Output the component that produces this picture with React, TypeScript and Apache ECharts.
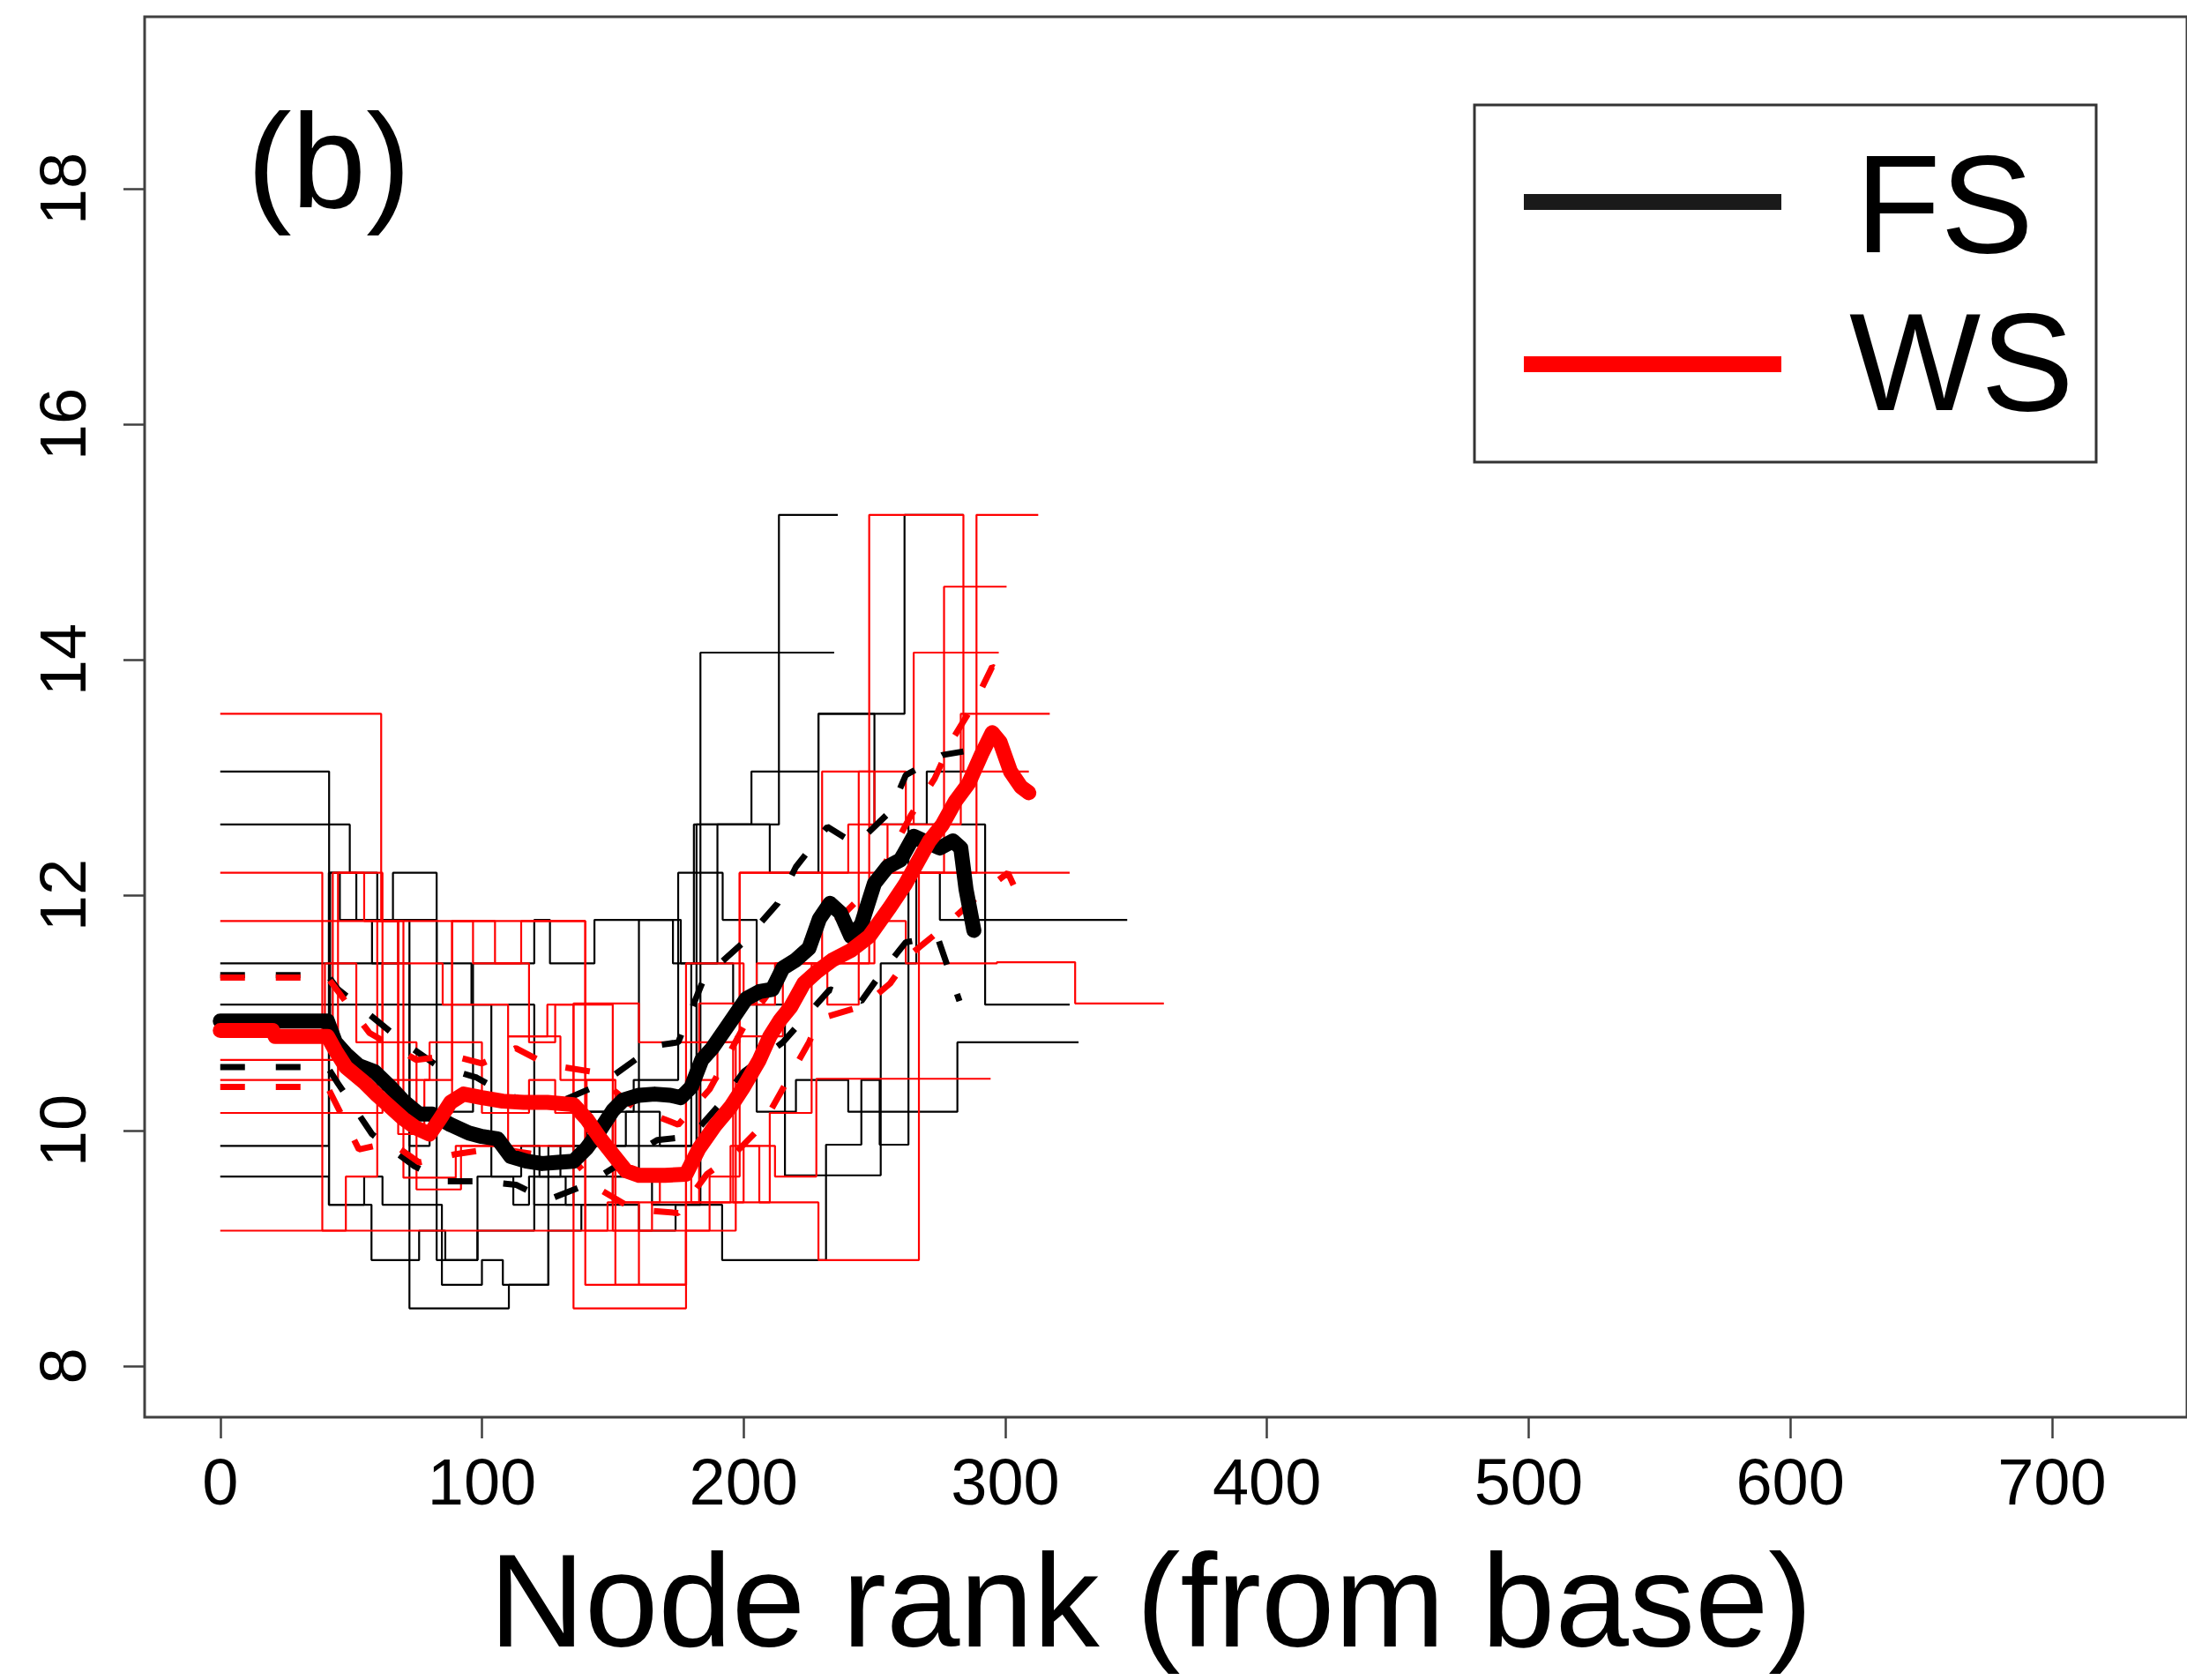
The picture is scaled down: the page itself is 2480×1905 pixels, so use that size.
import React, { useEffect, useRef } from "react";
import * as echarts from "echarts";

// ---------- axis ticks ----------
const X_TICKS = [0, 100, 200, 300, 400, 500, 600, 700];
const Y_TICKS = [8, 10, 12, 14, 16, 18];
const X_TITLE = "Node rank (from base)";
const PANEL_LABEL = "(b)";
const LEGEND_NAMES = ["FS", "WS"];

// ---------- thin step profiles (FS = black) ----------
const fsRun1 = [[0, 13.05], [41.6, 9.37], [55, 9.61], [62, 9.37], [84.7, 8.69], [100, 8.9], [108, 8.69], [125.4, 9.15], [138, 9.37], [150, 9.61], [165, 9.37], [183.5, 14.06], [234.6, 14.06]];
const fsRun2 = [[0, 12.6], [49.5, 12.19], [60, 11.79], [66, 12.19], [82.7, 8.9], [98.3, 9.61], [115, 9.87], [122, 9.61], [130, 9.87], [155, 10.16], [168, 9.87], [182, 12.6], [213.5, 15.23], [236, 15.23]];
const fsRun3 = [[0, 11.42], [68, 11.79], [72.3, 9.87], [80, 10.16], [96.6, 11.42], [120, 11.79], [126, 11.42], [143, 11.79], [173, 11.42], [181, 12.6], [203, 13.05], [228.6, 13.54], [261.5, 15.23], [284, 15.23]];
const fsRun4 = [[0, 11.07], [103.6, 9.61], [112, 9.37], [118, 9.61], [135, 10.16], [158, 10.43], [175, 12.19], [192, 11.79], [205, 10.16], [220, 10.43], [240, 10.16], [263, 12.6], [292.3, 11.07], [324.6, 11.07]];
const fsRun5 = [[0, 9.87], [41.5, 12.19], [45.7, 11.79], [58, 11.42], [72.3, 8.49], [110.3, 8.69], [125.4, 9.87], [140, 10.16], [150, 9.87], [180, 11.42], [196, 11.07], [215.8, 9.62], [252.4, 11.42], [266, 12.19], [275, 11.79], [346.6, 11.79]];
const fsRun6 = [[0, 9.61], [41.5, 9.37], [57.8, 8.9], [76, 9.15], [86, 8.9], [98.3, 9.15], [120, 9.61], [132, 9.37], [160, 9.15], [174, 9.37], [191.8, 8.9], [231.5, 9.88], [245, 10.43], [252, 9.88], [263, 10.16], [281.7, 10.75], [328, 10.75]];
const fsRun7 = [[0, 10.9], [42, 12.19], [52, 11.79], [82.7, 11.42], [96, 11.07], [120, 9.37], [135, 9.61], [160, 11.79], [176, 11.42], [190, 12.6], [210, 12.19], [228.6, 13.54], [250, 12.6], [270, 13.05], [290, 13.05]];

// ---------- thin step profiles (WS = red) ----------
const wsRun1 = [[0, 13.54], [61.5, 11.78], [68, 10.15], [88.6, 11.78], [105, 11.42], [115, 11.78], [139.5, 9.15], [148, 9.39], [160, 8.69], [178, 11.42], [200, 11.07], [212, 11.42], [248, 15.23], [284, 13.05], [309, 13.05]];
const wsRun2 = [[0, 12.19], [39, 9.15], [48, 9.61], [60, 11.78], [96.6, 11.42], [118, 10.75], [128, 11.07], [135, 8.49], [178, 9.15], [187, 9.61], [198.5, 12.19], [240, 12.6], [255, 12.19], [289, 15.23], [312.6, 15.23]];
const wsRun3 = [[0, 11.78], [68, 9.97], [78, 10.43], [88.6, 11.78], [139.5, 8.69], [178, 9.39], [195, 9.87], [206, 9.39], [228.6, 8.9], [267, 12.19], [276.6, 14.62], [300.5, 14.62]];
const wsRun4 = [[0, 10.43], [45, 12.19], [62, 10.43], [80, 10.75], [100, 10.15], [118, 10.43], [128, 10.15], [140, 10.43], [151, 9.39], [168, 9.61], [180, 9.39], [200, 9.87], [212, 9.61], [227.8, 10.44], [294.4, 10.44]];
const wsRun5 = [[0, 10.15], [62, 11.42], [85, 11.07], [110, 10.8], [125, 11.07], [150, 9.15], [165, 9.39], [183, 11.08], [205, 11.42], [230, 13.05], [250, 12.6], [265, 14.06], [297.5, 14.06]];
const wsRun6 = [[0, 9.15], [197, 10.8], [215, 11.42], [232, 11.07], [244, 13.05], [262, 12.6], [283, 13.54], [317, 13.54]];
const wsRun7 = [[0, 10.8], [40, 11.42], [52, 10.75], [75, 9.5], [92, 9.87], [135, 11.08], [160, 10.75], [196, 9.39], [210, 10.15], [226, 11.42], [250, 11.78], [262, 11.42], [296.8, 11.43], [326.7, 11.08], [360.6, 11.08]];
const wsRun8 = [[0, 10.6], [43, 12.19], [55, 11.78], [70, 9.6], [90, 9.87], [110, 10.8], [130, 10.43], [151, 8.69], [178, 10.43], [190, 10.75], [198.5, 12.19], [324.6, 12.19]];

// ---------- mean profiles ----------
const fsMeanX = [0, 41, 44, 48, 53, 59, 65, 70, 76, 81, 88, 95, 100, 106, 111, 117, 123, 129, 135, 140, 145, 150, 154, 160, 166, 172, 176, 180, 184, 188, 193, 197, 201, 206, 211, 215, 220, 225, 229, 233, 237, 241, 245, 250, 255, 260, 265, 270, 275, 280, 283, 285, 288];
const fsMeanY = [10.93, 10.93, 10.75, 10.65, 10.55, 10.5, 10.37, 10.25, 10.14, 10.14, 10.05, 9.98, 9.95, 9.93, 9.78, 9.74, 9.72, 9.73, 9.74, 9.85, 10.0, 10.17, 10.26, 10.3, 10.31, 10.3, 10.28, 10.37, 10.6, 10.7, 10.86, 10.99, 11.12, 11.18, 11.2, 11.38, 11.45, 11.55, 11.8, 11.93, 11.85, 11.65, 11.75, 12.1, 12.24, 12.3, 12.5, 12.45, 12.4, 12.46, 12.4, 12.05, 11.7];
const wsMeanX = [0, 20, 21, 41, 44, 48, 55, 60, 65, 70, 75, 80, 84, 88, 93, 100, 108, 116, 125, 135, 140, 145, 150, 155, 160, 170, 178, 183, 189, 195, 200, 206, 210, 214, 218, 223, 228, 234, 241, 248, 256, 262, 267, 271, 276, 281, 286, 291, 295, 298, 302, 306, 309];
const wsMeanY = [10.85, 10.85, 10.8, 10.8, 10.68, 10.54, 10.41, 10.3, 10.2, 10.1, 10.02, 9.97, 10.1, 10.24, 10.31, 10.28, 10.25, 10.24, 10.24, 10.22, 10.1, 9.94, 9.8, 9.66, 9.62, 9.62, 9.63, 9.85, 10.04, 10.2, 10.37, 10.6, 10.8, 10.94, 11.05, 11.25, 11.35, 11.45, 11.53, 11.65, 11.9, 12.1, 12.3, 12.46, 12.6, 12.8, 12.95, 13.2, 13.38, 13.3, 13.05, 12.92, 12.87];

// ---------- confidence bands (dashed) ----------
const fsUpperX = [0, 41, 45, 59, 70, 83, 98, 110, 125, 146, 166, 175, 185, 200, 213, 220, 232, 243, 256, 262, 276, 284];
const fsUpperY = [11.32, 11.32, 11.2, 10.95, 10.75, 10.55, 10.45, 10.3, 10.2, 10.4, 10.72, 10.75, 11.3, 11.6, 11.93, 12.24, 12.58, 12.43, 12.71, 13.02, 13.19, 13.22];
const fsLowerX = [0, 41, 45, 58, 74, 86, 99, 113, 125, 140, 155, 167, 180, 190, 200, 215, 233, 245, 253, 262, 274, 282.5];
const fsLowerY = [10.54, 10.54, 10.4, 9.97, 9.7, 9.57, 9.57, 9.54, 9.41, 9.54, 9.75, 9.92, 9.95, 10.2, 10.5, 10.75, 11.2, 11.1, 11.35, 11.6, 11.65, 11.1];
const wsUpperX = [0, 41, 57, 75, 88, 100, 113, 125, 142, 158, 175, 187, 200, 214, 232, 250, 264, 273, 280, 288, 295, 303.5];
const wsUpperY = [11.3, 11.3, 10.83, 10.6, 10.64, 10.57, 10.7, 10.56, 10.5, 10.2, 10.05, 10.35, 10.88, 11.3, 11.7, 12.1, 12.68, 12.99, 13.33, 13.62, 13.94, 13.84];
const wsLowerX = [0, 41, 53, 65, 76, 90, 105, 120, 135, 145, 158, 175, 186, 196, 207, 225, 229, 246, 256, 264, 275, 290, 301, 307];
const wsLowerY = [10.37, 10.37, 9.84, 9.9, 9.73, 9.8, 9.85, 9.8, 9.75, 9.5, 9.33, 9.3, 9.63, 9.79, 10.04, 10.75, 10.95, 11.06, 11.25, 11.5, 11.7, 12.0, 12.19, 11.9];

const FS_RUNS = [fsRun1, fsRun2, fsRun3, fsRun4, fsRun5, fsRun6, fsRun7];
const WS_RUNS = [wsRun1, wsRun2, wsRun3, wsRun4, wsRun5, wsRun6, wsRun7, wsRun8];

const FONT = "'Liberation Sans', Arial, Helvetica, sans-serif";
const BLACK = "#000000";
const RED = "#ff0000";

const zip = (xs: number[], ys: number[]) => xs.map((x, i) => [x, ys[i]]);

function buildOption() {
  const series: any[] = [];
  FS_RUNS.forEach((run, i) => {
    series.push({
      name: `FS run ${i + 1}`, type: "line", step: "end", data: run, symbol: "none", silent: true,
      lineStyle: { color: BLACK, width: 2.2 },
    });
  });
  WS_RUNS.forEach((run, i) => {
    series.push({
      name: `WS run ${i + 1}`, type: "line", step: "end", data: run, symbol: "none", silent: true,
      lineStyle: { color: RED, width: 2.2 },
    });
  });
  const dashed = (name: string, xs: number[], ys: number[], color: string) => ({
    name, type: "line", data: zip(xs, ys), symbol: "none", silent: true,
    lineStyle: { color, width: 7, type: [28, 35], cap: "butt" },
  });
  series.push(dashed("FS upper", fsUpperX, fsUpperY, BLACK));
  series.push(dashed("FS lower", fsLowerX, fsLowerY, BLACK));
  series.push(dashed("WS upper", wsUpperX, wsUpperY, RED));
  series.push(dashed("WS lower", wsLowerX, wsLowerY, RED));
  series.push({
    name: "FS", type: "line", data: zip(fsMeanX, fsMeanY), symbol: "none", silent: true,
    itemStyle: { color: BLACK },
    lineStyle: { color: BLACK, width: 17, cap: "round", join: "round" },
  });
  series.push({
    name: "WS", type: "line", data: zip(wsMeanX, wsMeanY), symbol: "none", silent: true,
    itemStyle: { color: RED },
    lineStyle: { color: RED, width: 17, cap: "round", join: "round" },
  });

  return {
    animation: false,
    backgroundColor: "#ffffff",
    grid: {
      left: 164, top: 19, right: -6, bottom: 298,
      show: true, borderColor: "#404040", borderWidth: 3, backgroundColor: "transparent",
    },
    xAxis: {
      type: "value", min: -28.9, max: 751.6,
      axisLine: { show: false, onZero: false },
      splitLine: { show: false },
      axisTick: { show: true, length: 24, customValues: X_TICKS, lineStyle: { color: "#404040", width: 2.5 } },
      axisLabel: { customValues: X_TICKS, margin: 36, fontSize: 74, fontFamily: FONT, color: "#000" },
    },
    yAxis: {
      type: "value", min: 7.5655, max: 19.461,
      axisLine: { show: false, onZero: false },
      splitLine: { show: false },
      axisTick: { show: true, length: 24, customValues: Y_TICKS, lineStyle: { color: "#404040", width: 2.5 } },
      axisLabel: { customValues: Y_TICKS, rotate: 90, margin: 56, fontSize: 74, fontFamily: FONT, color: "#000" },
    },
    graphic: [
      {
        type: "text", x: 1305, y: 1815, z: 100,
        style: { text: X_TITLE, fontSize: 150, fontFamily: FONT, fill: "#000", textAlign: "center", textVerticalAlign: "middle", align: "center", verticalAlign: "middle" },
      },
      {
        type: "text", x: 280, y: 182, z: 100,
        style: { text: PANEL_LABEL, fontSize: 152, fontFamily: FONT, fill: "#000", textAlign: "left", textVerticalAlign: "middle", align: "left", verticalAlign: "middle" },
      },
      {
        type: "rect", z: 100, shape: { x: 1672, y: 119, width: 705, height: 405 },
        style: { fill: "#ffffff", stroke: "#333333", lineWidth: 3 },
      },
      {
        type: "line", z: 101, shape: { x1: 1728, y1: 229, x2: 2020, y2: 229 },
        style: { stroke: "#1a1a1a", lineWidth: 18 },
      },
      {
        type: "line", z: 101, shape: { x1: 1728, y1: 413, x2: 2020, y2: 413 },
        style: { stroke: RED, lineWidth: 18 },
      },
      {
        type: "text", x: 2104, y: 231, z: 101,
        style: { text: LEGEND_NAMES[0], fontSize: 158, fontFamily: FONT, fill: "#000", textAlign: "left", textVerticalAlign: "middle", align: "left", verticalAlign: "middle" },
      },
      {
        type: "text", x: 2097, y: 410, z: 101,
        style: { text: LEGEND_NAMES[1], fontSize: 158, fontFamily: FONT, fill: "#000", textAlign: "left", textVerticalAlign: "middle", align: "left", verticalAlign: "middle" },
      },
    ],
    series,
  };
}

export default function App() {
  const ref = useRef<HTMLDivElement>(null);
  useEffect(() => {
    document.body.style.margin = "0";
    const chart = echarts.init(ref.current as HTMLDivElement, null, { renderer: "svg" });
    chart.setOption(buildOption() as any);
    return () => chart.dispose();
  }, []);
  return <div ref={ref} style={{ width: 2480, height: 1905 }} />;
}
